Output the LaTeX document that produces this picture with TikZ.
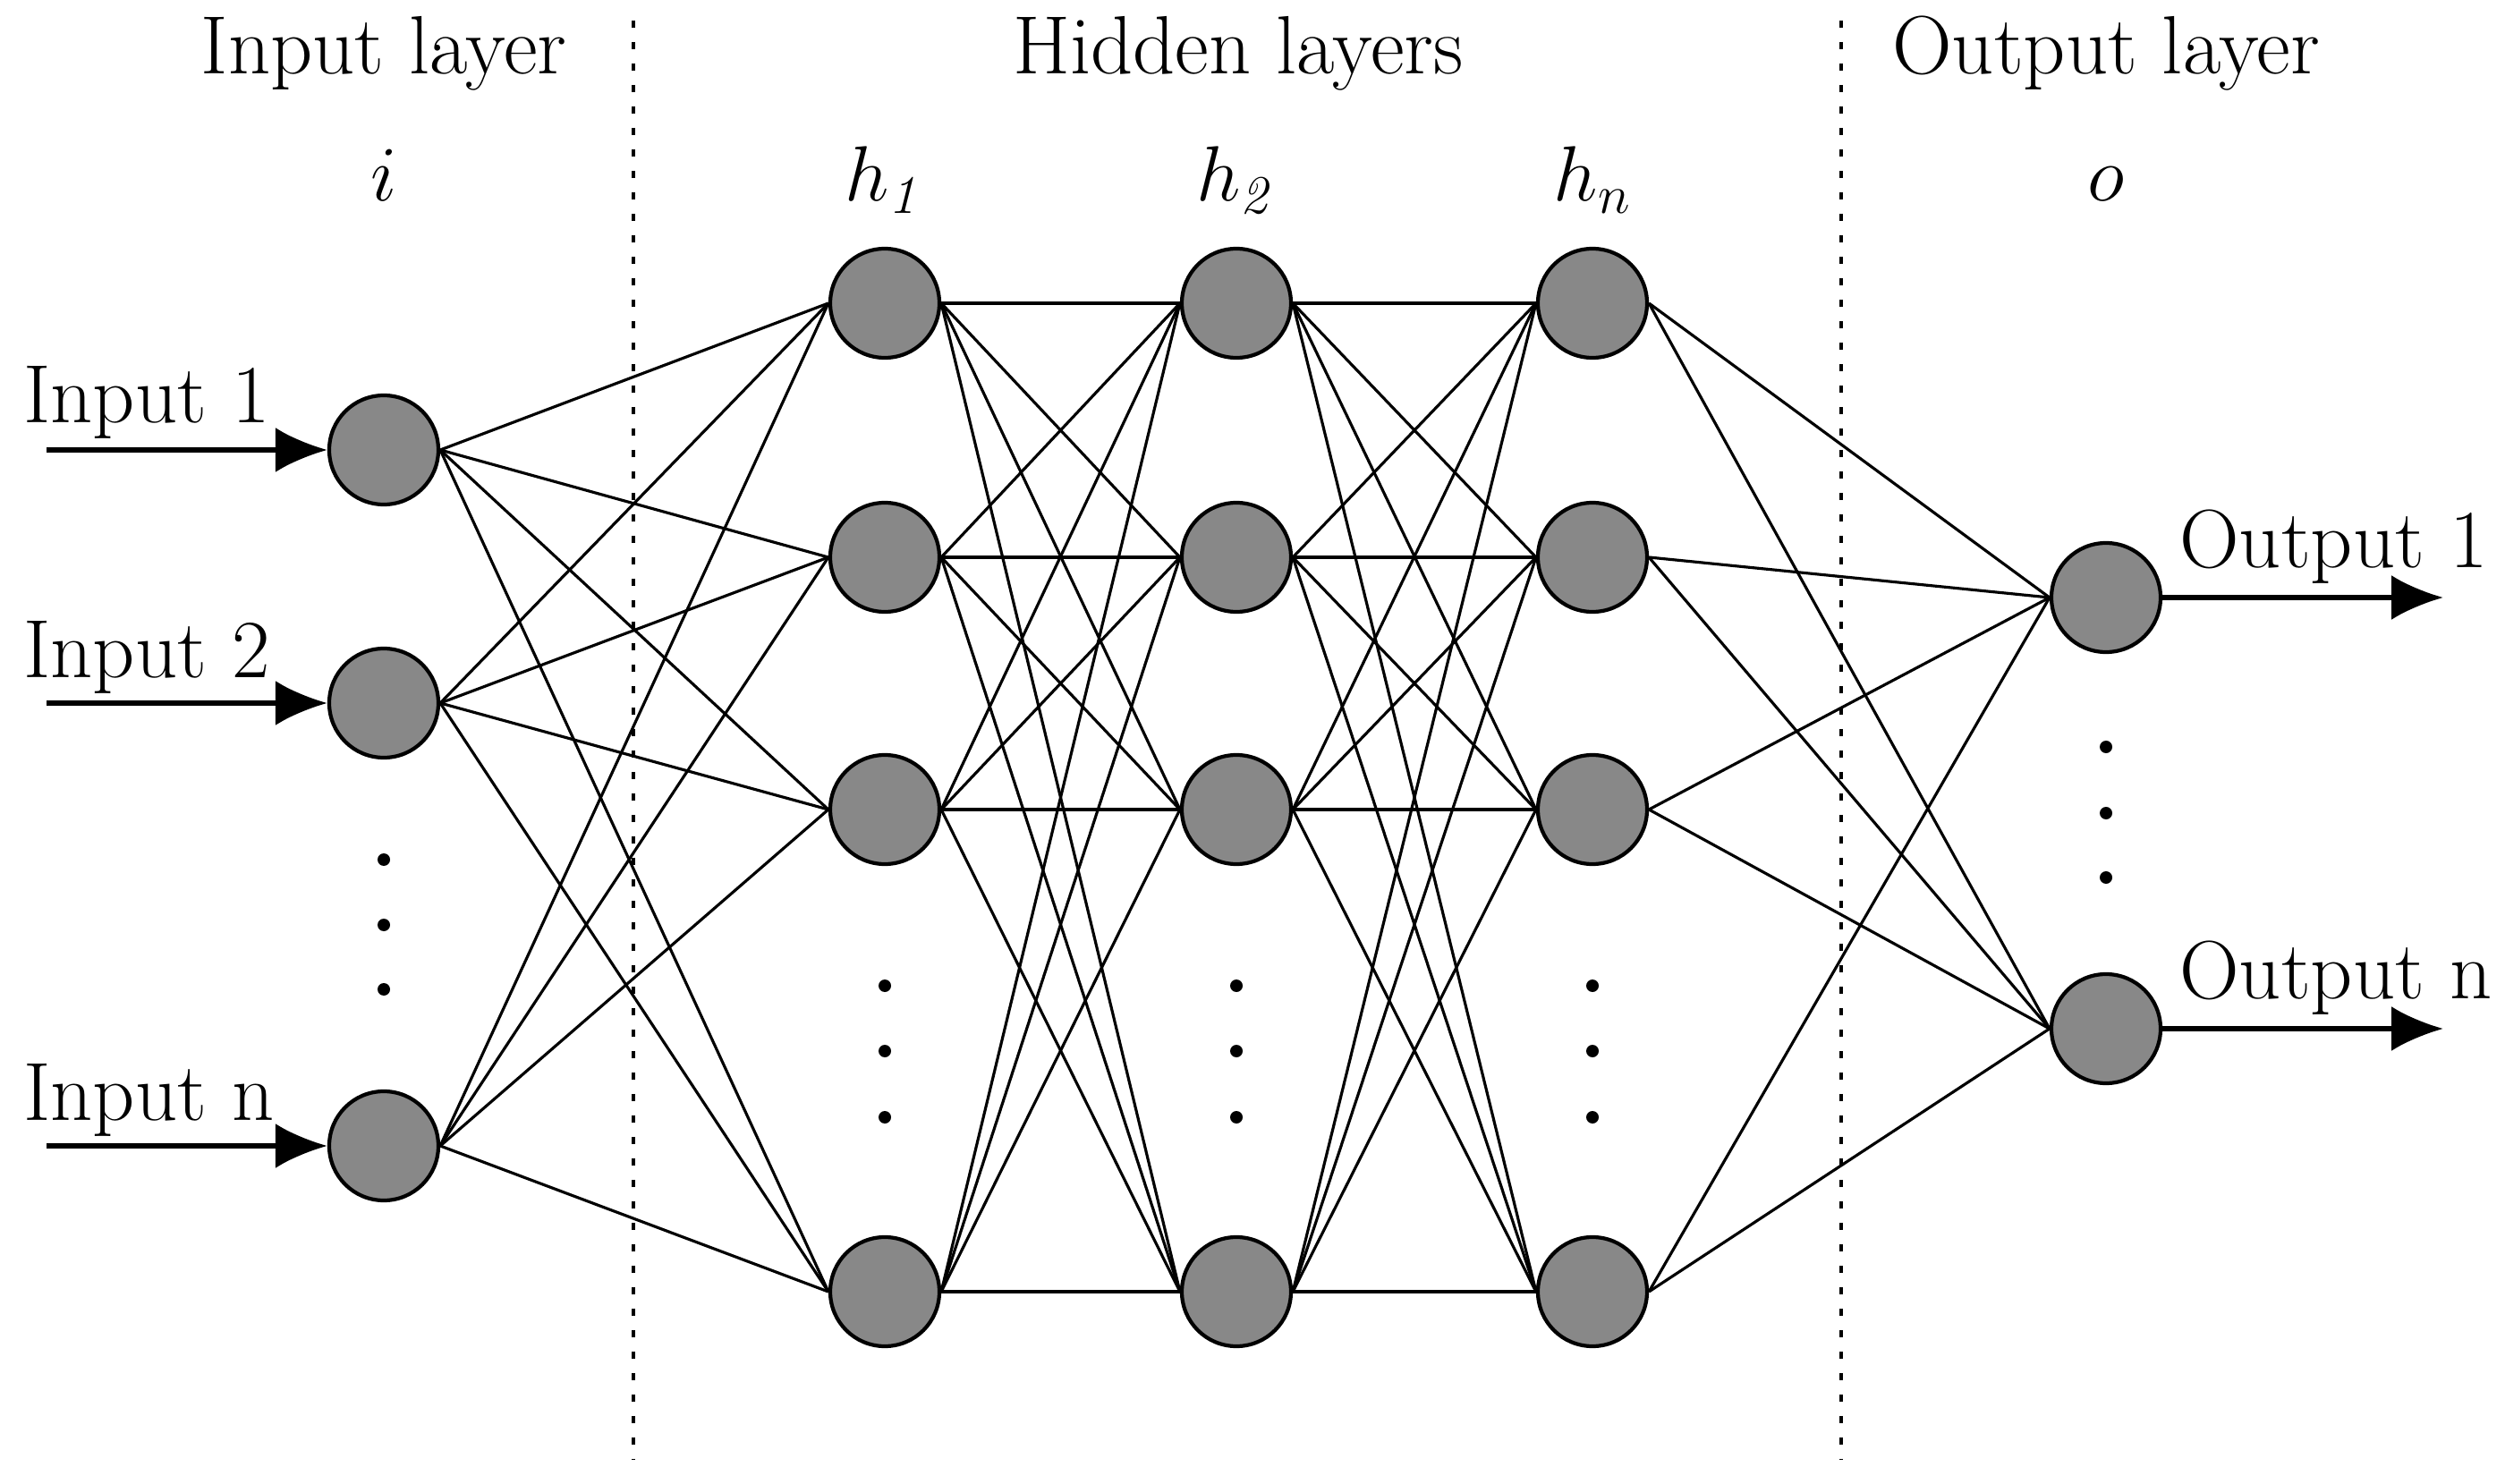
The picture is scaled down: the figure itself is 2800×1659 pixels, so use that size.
\documentclass[tikz,border=0pt]{standalone}
\usepackage{amsmath}
\usepackage{tikz}
\usetikzlibrary{arrows.meta}
\definecolor{gris}{RGB}{136,136,136}
\tikzset{
  neurona/.style={circle, draw, line width=1.2pt, fill=gris, minimum size=12.2mm, inner sep=0pt},
  conexion/.style={line width=0.9pt},
  flecha/.style={line width=1.5pt, -{Latex[length=5.8mm,width=5mm]}},
  separador/.style={line width=1.2pt, dash pattern=on 0.8mm off 1.6mm},
  puntos/.style={fill=black}
}

\begin{document}
\begin{tikzpicture}[x=0.1mm, y=-0.1mm, font=\fontsize{26.3}{30}\selectfont]
\useasboundingbox (0,0) rectangle (2800,1659);
% Separadores de capas
\draw[separador] (708,23) -- (708,1632);
\draw[separador] (2058,23) -- (2058,1632);
% Titulos de capas
\node[anchor=base] (tin) at (429,83) {Input layer};
\node[anchor=base] (thid) at (1384,83) {Hidden layers};
\node[anchor=base] (tout) at (2354,83) {Output layer};
% Nombres de capas
\node[anchor=base] (li) at (429,225) {$i$};
\node[anchor=base] (lha) at (989,225) {$h_{\mathit{1}}$};
\node[anchor=base] (lhb) at (1382,225) {$h_{\mathit{2}}$};
\node[anchor=base] (lhc) at (1780,225) {$h_n$};
\node[anchor=base] (lo) at (2354,225) {$o$};
% Capa de entrada
\node[neurona] (i1) at (429,503) {};
\node[neurona] (i2) at (429,786) {};
\node[neurona] (i3) at (429,1281) {};
% Capas ocultas h1, h2, hn
\foreach \col/\x in {ha/989, hb/1382, hc/1780} {
  \node[neurona] (\col1) at (\x,339) {};
  \node[neurona] (\col2) at (\x,623) {};
  \node[neurona] (\col3) at (\x,905) {};
  \node[neurona] (\col4) at (\x,1444) {};
  \foreach \y in {1102,1175,1249} \fill[puntos] (\x,\y) circle (0.7mm);
}
% Capa de salida
\node[neurona] (o1) at (2354,668) {};
\node[neurona] (o2) at (2354,1150) {};
% Puntos suspensivos
\foreach \y in {961,1034,1106} \fill[puntos] (429,\y) circle (0.7mm);
\foreach \y in {835,909,981} \fill[puntos] (2354,\y) circle (0.7mm);
% Conexiones
\foreach \a in {1,2,3} \foreach \b in {1,...,4} \draw[conexion] (i\a.east) -- (ha\b.west);
\foreach \a in {1,...,4} \foreach \b in {1,...,4} {
  \draw[conexion] (ha\a.east) -- (hb\b.west);
  \draw[conexion] (hb\a.east) -- (hc\b.west);
}
\foreach \a in {1,...,4} \foreach \b in {1,2} \draw[conexion] (hc\a.east) -- (o\b.west);
% Entradas
\coordinate (e1) at (52,503);
\coordinate (e2) at (52,786);
\coordinate (e3) at (52,1281);
\draw[flecha] (e1) -- (i1.west);
\draw[flecha] (e2) -- (i2.west);
\draw[flecha] (e3) -- (i3.west);
\node[anchor=base west] (le1) at (14,473) {Input 1};
\node[anchor=base west] (le2) at (14,758) {Input 2};
\node[anchor=base west] (le3) at (14,1252) {Input n};
% Salidas
\coordinate (s1) at (2731,668);
\coordinate (s2) at (2731,1150);
\draw[flecha] (o1.east) -- (s1);
\draw[flecha] (o2.east) -- (s2);
\node[anchor=base west] (ls1) at (2424,635) {Output 1};
\node[anchor=base west] (ls2) at (2424,1116) {Output n};
\end{tikzpicture}
\end{document}
